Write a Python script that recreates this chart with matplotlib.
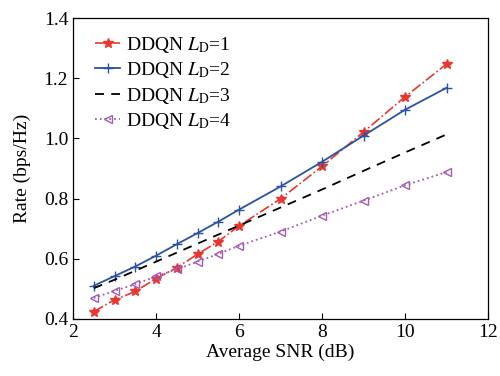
import numpy as np
import matplotlib
matplotlib.use("Agg")
import matplotlib.pyplot as plt

plt.rcParams['font.family'] = 'serif'
plt.rcParams['font.serif'] = ['Liberation Serif', 'DejaVu Serif']
plt.rcParams['mathtext.fontset'] = 'stix'

snr = [2.5, 3, 3.5, 4, 4.5, 5, 5.5, 6, 7, 8, 9, 10, 11]
rate_ld1 = [0.424, 0.463, 0.491, 0.534, 0.570, 0.615, 0.657, 0.709, 0.799, 0.907, 1.021, 1.138, 1.247]
rate_ld2 = [0.510, 0.542, 0.574, 0.610, 0.648, 0.685, 0.723, 0.763, 0.840, 0.922, 1.009, 1.095, 1.168]
rate_ld3 = [0.502, 0.530, 0.560, 0.590, 0.620, 0.650, 0.680, 0.710, 0.770, 0.830, 0.892, 0.953, 1.013]
rate_ld4 = [0.469, 0.493, 0.515, 0.541, 0.565, 0.590, 0.616, 0.643, 0.690, 0.743, 0.793, 0.844, 0.888]

fig = plt.figure(figsize=(5, 3.76), dpi=100)
ax = fig.add_axes([0.146, 0.152, 0.830, 0.800])

ax.plot(snr, rate_ld1, color='#e8372f', linestyle='-.', marker='*', markersize=7,
        linewidth=1.2, label=r'DDQN $L_\mathrm{D}$=1')
ax.plot(snr, rate_ld2, color='#2a52a0', linestyle='-', marker='+', markersize=7,
        linewidth=1.3, label=r'DDQN $L_\mathrm{D}$=2')
ax.plot(snr, rate_ld3, color='black', linestyle=(0, (5, 4)), linewidth=1.3,
        label=r'DDQN $L_\mathrm{D}$=3')
ax.plot(snr, rate_ld4, color='#a55cb0', linestyle=':', marker='<', markersize=6,
        markerfacecolor='none', linewidth=1.3, label=r'DDQN $L_\mathrm{D}$=4')

ax.set_xlim(2, 12)
ax.set_ylim(0.4, 1.4)
ax.set_xticks([2, 4, 6, 8, 10, 12])
ax.set_yticks([0.4, 0.6, 0.8, 1.0, 1.2, 1.4])
ax.set_yticklabels(['0.4', '0.6', '0.8', '1.0', '1.2', '1.4'])
ax.tick_params(direction='in', labelsize=14, length=4, width=0.8)
ax.set_xlabel('Average SNR (dB)', fontsize=14, labelpad=2)
ax.set_ylabel('Rate (bps/Hz)', fontsize=14, labelpad=9)
for s in ax.spines.values():
    s.set_linewidth(0.9)

ax.legend(loc='upper left', bbox_to_anchor=(0.034, 0.97), frameon=False, fontsize=14,
          handlelength=1.3, handletextpad=0.3, labelspacing=0.28, borderaxespad=0)

fig.savefig('out.png', dpi=100)
